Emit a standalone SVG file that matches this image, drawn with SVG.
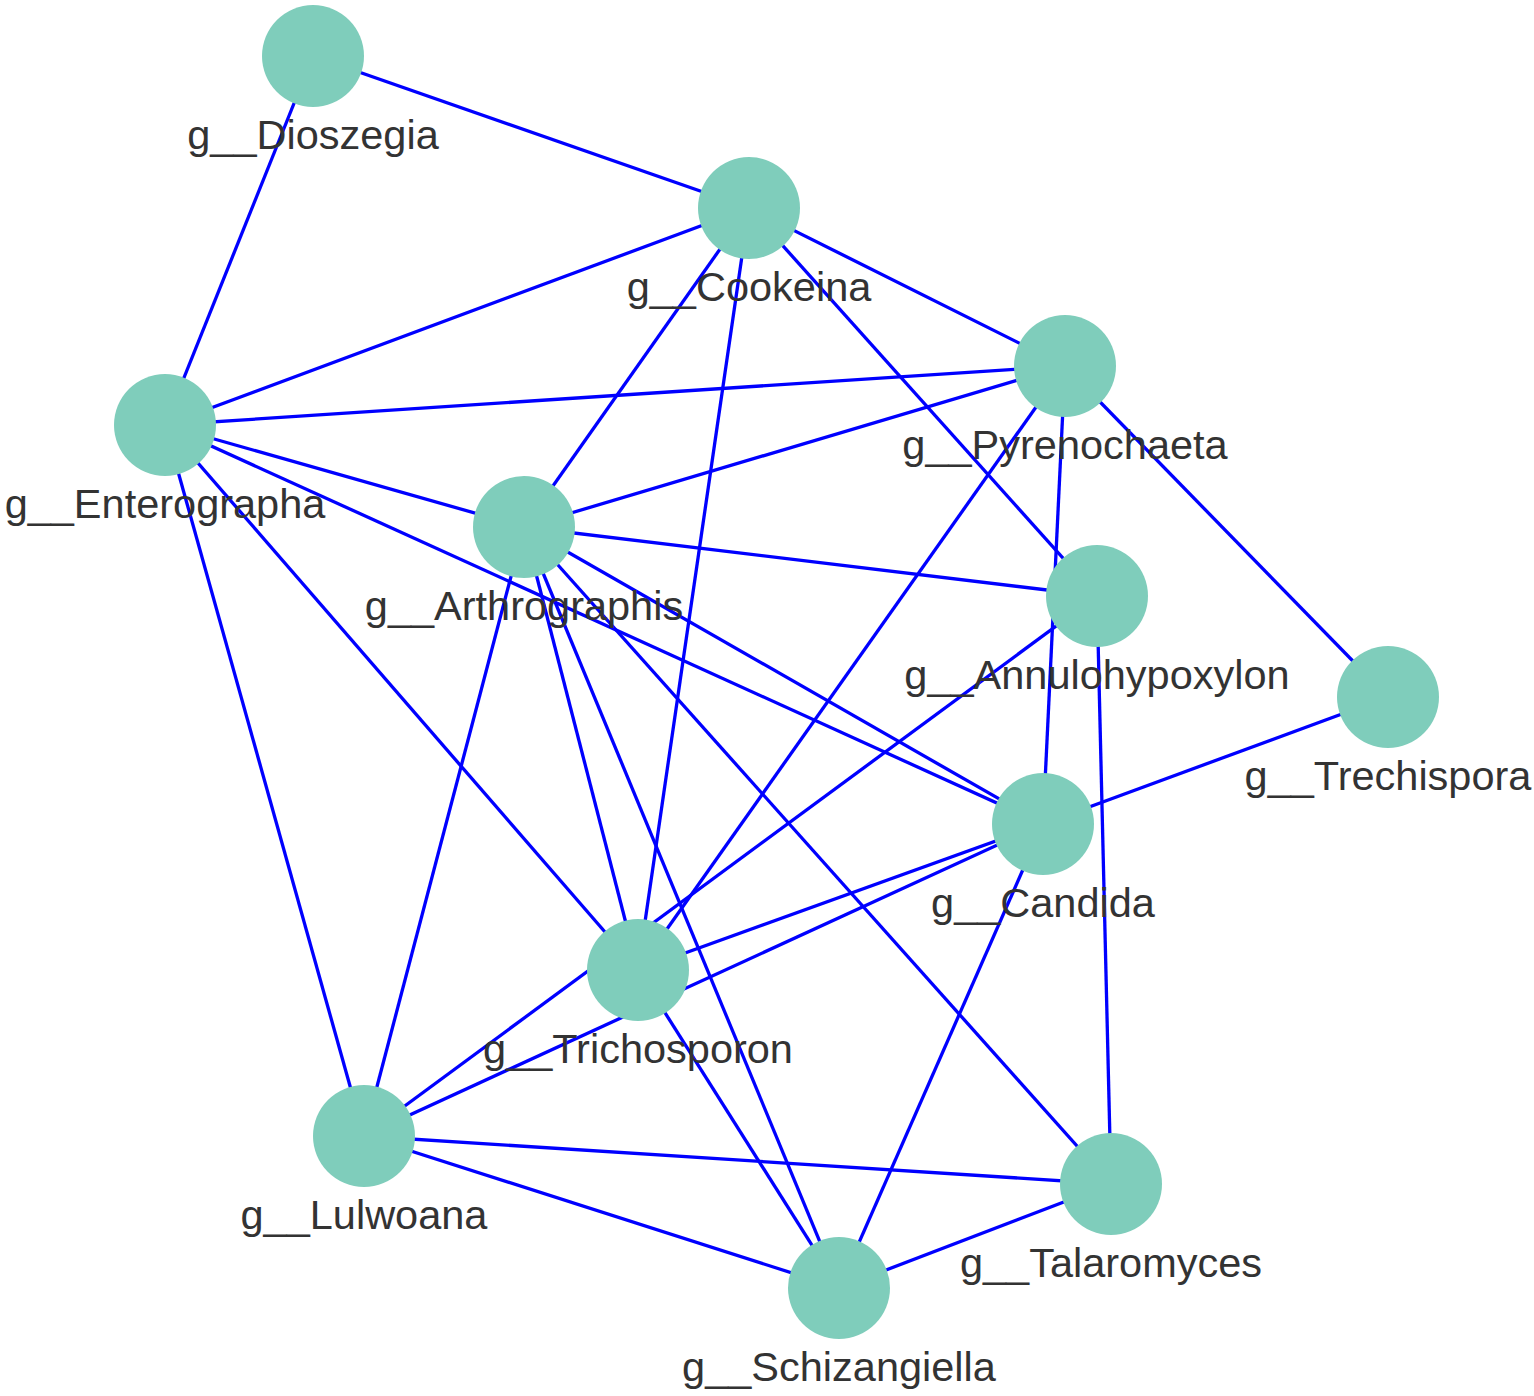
<svg xmlns="http://www.w3.org/2000/svg" width="1534" height="1396" viewBox="0 0 1534 1396">
<style>
.e{stroke:#0000ff;stroke-width:3.3;fill:none}
.n{fill:#7fcdbb}
.l{font-family:"Liberation Sans",Arial,sans-serif;font-size:41.5px;fill:#333333;text-anchor:middle}
</style>
<rect width="1534" height="1396" fill="#ffffff"/>
<g id="edges">
<line class="e" x1="313" y1="56" x2="749" y2="208"/>
<line class="e" x1="313" y1="56" x2="165" y2="425"/>
<line class="e" x1="749" y1="208" x2="165" y2="425"/>
<line class="e" x1="749" y1="208" x2="1065" y2="366"/>
<line class="e" x1="749" y1="208" x2="524" y2="527"/>
<line class="e" x1="749" y1="208" x2="638" y2="970"/>
<line class="e" x1="749" y1="208" x2="1097" y2="596"/>
<line class="e" x1="165" y1="425" x2="1065" y2="366"/>
<line class="e" x1="165" y1="425" x2="524" y2="527"/>
<line class="e" x1="165" y1="425" x2="1043" y2="824"/>
<line class="e" x1="165" y1="425" x2="638" y2="970"/>
<line class="e" x1="165" y1="425" x2="364" y2="1136"/>
<line class="e" x1="1065" y1="366" x2="524" y2="527"/>
<line class="e" x1="1065" y1="366" x2="638" y2="970"/>
<line class="e" x1="1065" y1="366" x2="1043" y2="824"/>
<line class="e" x1="1065" y1="366" x2="1388" y2="697"/>
<line class="e" x1="524" y1="527" x2="1097" y2="596"/>
<line class="e" x1="524" y1="527" x2="1043" y2="824"/>
<line class="e" x1="524" y1="527" x2="638" y2="970"/>
<line class="e" x1="524" y1="527" x2="364" y2="1136"/>
<line class="e" x1="524" y1="527" x2="839" y2="1288"/>
<line class="e" x1="524" y1="527" x2="1111" y2="1184"/>
<line class="e" x1="1097" y1="596" x2="364" y2="1136"/>
<line class="e" x1="1097" y1="596" x2="1111" y2="1184"/>
<line class="e" x1="1043" y1="824" x2="1388" y2="697"/>
<line class="e" x1="1043" y1="824" x2="638" y2="970"/>
<line class="e" x1="1043" y1="824" x2="364" y2="1136"/>
<line class="e" x1="1043" y1="824" x2="839" y2="1288"/>
<line class="e" x1="638" y1="970" x2="839" y2="1288"/>
<line class="e" x1="364" y1="1136" x2="1111" y2="1184"/>
<line class="e" x1="364" y1="1136" x2="839" y2="1288"/>
<line class="e" x1="1111" y1="1184" x2="839" y2="1288"/>
</g>
<g id="node-dioszegia"><circle class="n" cx="313" cy="56" r="51"/><text class="l" x="313" y="149">g__Dioszegia</text></g>
<g id="node-cookeina"><circle class="n" cx="749" cy="208" r="51"/><text class="l" x="749" y="301">g__Cookeina</text></g>
<g id="node-pyrenochaeta"><circle class="n" cx="1065" cy="366" r="51"/><text class="l" x="1065" y="459">g__Pyrenochaeta</text></g>
<g id="node-enterographa"><circle class="n" cx="165" cy="425" r="51"/><text class="l" x="165" y="518">g__Enterographa</text></g>
<g id="node-arthrographis"><circle class="n" cx="524" cy="527" r="51"/><text class="l" x="524" y="620">g__Arthrographis</text></g>
<g id="node-annulohypoxylon"><circle class="n" cx="1097" cy="596" r="51"/><text class="l" x="1097" y="689">g__Annulohypoxylon</text></g>
<g id="node-trechispora"><circle class="n" cx="1388" cy="697" r="51"/><text class="l" x="1388" y="790">g__Trechispora</text></g>
<g id="node-candida"><circle class="n" cx="1043" cy="824" r="51"/><text class="l" x="1043" y="917">g__Candida</text></g>
<g id="node-trichosporon"><circle class="n" cx="638" cy="970" r="51"/><text class="l" x="638" y="1063">g__Trichosporon</text></g>
<g id="node-lulwoana"><circle class="n" cx="364" cy="1136" r="51"/><text class="l" x="364" y="1229">g__Lulwoana</text></g>
<g id="node-talaromyces"><circle class="n" cx="1111" cy="1184" r="51"/><text class="l" x="1111" y="1277">g__Talaromyces</text></g>
<g id="node-schizangiella"><circle class="n" cx="839" cy="1288" r="51"/><text class="l" x="839" y="1381">g__Schizangiella</text></g>
</svg>
